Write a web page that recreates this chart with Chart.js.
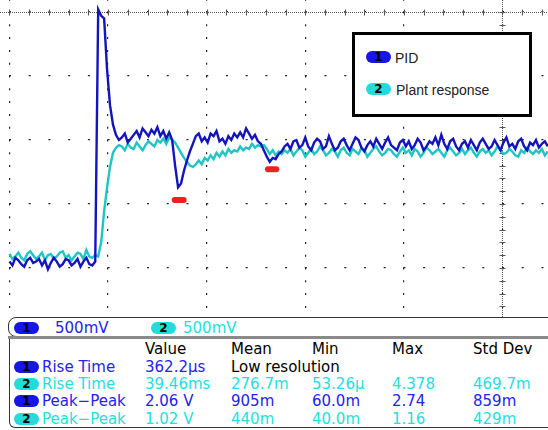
<!DOCTYPE html>
<html>
<head>
<meta charset="utf-8">
<script src="https://cdn.jsdelivr.net/npm/chart.js@4.4.1/dist/chart.umd.min.js"></script>
<style>
  body { margin: 0; background: #fff; width: 548px; height: 430px; overflow: hidden; position: relative; }
  #plot { position: absolute; left: 0; top: 0; width: 548px; height: 317px; }
  .pill { position: absolute; width: 25px; height: 12px; border-radius: 6px; color: #000;
          font: bold 12px "DejaVu Sans", sans-serif; line-height: 12px; text-align: center; }
  .blue { color: #2323f0; }
  .cyan { color: #1ee0e0; }
  .pill.b { background: #1616e6; color: #000; }
  .pill.c { background: #22dcdc; color: #000; }
  .t { position: absolute; font: 15px "DejaVu Sans", sans-serif; line-height: 18px; white-space: nowrap; }
  #legend { position: absolute; left: 352px; top: 32px; width: 174px; height: 79px; border: 3px solid #000; background: #fff; }
  #legend .lab { position: absolute; font: 14px "Liberation Sans", Arial, sans-serif; color: #222; line-height: 16px; white-space: nowrap; }
  #scalebox { position: absolute; left: 8px; top: 317px; width: 560px; height: 18px; border: 1px solid #333; border-radius: 8px 0 0 8px; }
  #bar { position: absolute; left: 8px; top: 336px; width: 560px; height: 3px; background: #8a8a8a; }
  #table { position: absolute; left: 9px; top: 339px; width: 560px; height: 88px; border: 1px solid #333; border-top: none; border-radius: 0 0 0 6px; }
</style>
</head>
<body>
<div id="plot"><canvas id="scope"></canvas></div>

<div id="legend">
  <div class="pill b" style="left:11px;top:16px">1</div>
  <div class="lab" style="left:40px;top:15px">PID</div>
  <div class="pill c" style="left:11px;top:48px">2</div>
  <div class="lab" style="left:41px;top:47px">Plant response</div>
</div>

<div id="scalebox"></div>
<div id="bar"></div>
<div id="table"></div>
<div id="panel"></div>

<script>
// sample period of the captured traces (ms), 100 ms per division, 500 mV per division
const sampleMs = 3;

// channel 1 - PID output (V)
const pid = [
  0.05,0.02,0.08,0.06,0.03,0.01,0.06,0.08,0.04,0.05,
  0.07,0.02,0.06,-0.01,0.04,0.08,0.05,0.01,0.03,0.07,
  0.06,0.02,0.04,0.07,0.01,0.05,0.08,0.03,0.02,0.05,
  2.02,1.97,1.95,1.55,1.27,1.12,1.04,1.00,
  1.02,1.05,0.98,1.01,1.04,1.07,1.02,1.09,1.06,1.03,
  1.08,1.05,1.10,1.03,1.07,1.01,1.06,1.00,0.80,0.63,
  0.66,0.76,0.84,0.91,0.97,1.03,1.05,0.99,1.02,0.98,
  1.05,1.03,1.07,0.99,1.01,0.97,1.03,1.00,1.05,1.02,
  1.06,1.02,1.09,1.05,1.01,1.04,0.99,0.97,0.92,0.87,
  0.83,0.86,0.85,0.89,0.91,0.95,
  0.97,0.93,0.99,1.00,0.94,0.96,1.02,0.95,0.92,0.98,
  1.01,0.99,0.93,0.95,1.03,0.97,0.92,0.94,0.99,1.01,
  0.96,0.92,0.97,1.02,1.00,0.94,0.91,0.96,0.99,0.95,
  1.01,0.97,0.93,0.98,1.02,0.96,0.94,0.92,0.98,1.00,
  0.95,0.99,0.93,0.96,1.01,0.98,0.92,0.95,0.99,0.97,
  1.02,0.96,1.04,0.97,0.93,0.99,1.01,0.95,0.92,0.97,
  0.99,0.94,1.00,0.96,0.92,0.98,1.01,0.97,0.93,0.95,
  1.00,0.96,0.92,0.98,1.02,0.95,0.97,0.93,0.99,1.01,
  0.95,0.92,0.98,0.96,1.00,0.94,0.97,0.99,0.95
];

// channel 2 - plant response (V)
const plant = [
  0.11,0.07,0.09,0.12,0.08,0.06,0.11,0.13,0.10,0.07,
  0.09,0.12,0.06,0.10,0.11,0.07,0.09,0.12,0.13,0.08,
  0.10,0.06,0.09,0.12,0.11,0.07,0.14,0.09,0.08,0.10,
  0.09,0.20,0.44,0.63,0.79,0.90,0.94,0.96,
  0.95,0.92,0.97,0.94,0.93,0.98,0.95,0.92,0.96,0.99,
  0.97,0.95,1.00,0.98,1.01,0.97,1.02,1.00,
  0.98,0.94,0.90,0.86,0.83,0.80,0.79,0.81,0.84,0.81,
  0.86,0.84,0.88,0.85,0.90,0.87,0.91,0.88,0.93,0.90,
  0.92,0.91,0.95,0.92,0.94,0.93,0.97,0.94,0.96,0.95,
  0.96,0.93,0.89,0.92,0.88,0.91,0.89,0.92,
  0.90,0.93,0.88,0.91,0.94,0.92,0.87,0.90,0.93,0.89,
  0.91,0.95,0.92,0.88,0.90,0.93,0.91,0.87,0.92,0.94,
  0.90,0.88,0.93,0.91,0.89,0.94,0.92,0.87,0.90,0.93,
  0.95,0.91,0.88,0.90,0.93,0.92,0.89,0.87,0.91,0.94,
  0.90,0.92,0.88,0.93,0.91,0.87,0.90,0.94,0.92,0.89,
  0.91,0.93,0.90,0.87,0.92,0.94,0.91,0.88,0.90,0.93,
  0.89,0.92,0.94,0.90,0.87,0.91,0.93,0.90,0.92,0.88,
  0.91,0.95,0.92,0.89,0.90,0.93,0.91,0.88,0.87,0.92,
  0.90,0.94,0.91,0.89,0.92,0.90,0.93,0.88,0.91
];

// red cursor markers (ms, V)
const cursorFrom = [167.6, 262.2];
const cursorTo = [176.7, 270.6];
const cursorLevel = [0.531, 0.771];

// grid divisions
const timeDivs = [0, 100, 200, 300, 400, 500];
const voltDivs = [0, 0.5, 1.0, 1.5, 2.0];

// measurement panel
const scaleLabels = ["500mV", "500mV"];
const statHeaders = ["Value", "Mean", "Min", "Max", "Std Dev"];
const statChannels = [1, 2, 1, 2];
const statNames = ["Rise Time", "Rise Time", "Peak\u2212Peak", "Peak\u2212Peak"];
const statValues = [
  ["362.2\u00b5s", "Low resolution", "", "", ""],
  ["39.46ms", "276.7m", "53.26\u00b5", "4.378", "469.7m"],
  ["2.06 V", "905m", "60.0m", "2.74", "859m"],
  ["1.02 V", "440m", "40.0m", "1.16", "429m"]
];

// build the html panel
const panel = document.getElementById('panel');
function addText(txt, x, y, cls, color) {
  const d = document.createElement('div');
  d.className = cls;
  d.style.left = x + 'px';
  d.style.top = y + 'px';
  if (color) d.style.color = color;
  d.textContent = txt;
  panel.appendChild(d);
}
addText('1', 14, 322, 'pill b');
addText(scaleLabels[0], 55, 319, 't blue');
addText('2', 151, 322, 'pill c');
addText(scaleLabels[1], 183, 319, 't cyan');

const colX = [145, 231, 312, 392, 473];
statHeaders.forEach((h, i) => addText(h, colX[i], 340, 't', '#000'));
statNames.forEach((n, r) => {
  const top = 357.5 + r * 17.4;
  const cls = statChannels[r] === 1 ? 'blue' : 'cyan';
  addText(String(statChannels[r]), 14, top + 3, 'pill ' + (cls === 'blue' ? 'b' : 'c'));
  addText(n, 42, top, 't ' + cls);
  statValues[r].forEach((v, c) => {
    if (v) addText(v, colX[c], top, 't ' + (c === 1 && r === 0 ? '' : cls), c === 1 && r === 0 ? '#000' : null);
  });
});

// dense centre-style axes with tick marks
const scopeAxes = {
  id: 'scopeAxes',
  beforeDatasetsDraw(chart) {
    const ctx = chart.ctx, a = chart.chartArea;
    const xs = chart.scales.x, ys = chart.scales.y;
    const yTop = Math.round(ys.getPixelForValue(2.0)) + 0.5;
    const xAx = Math.round(xs.getPixelForValue(500)) + 0.5;
    ctx.save();
    ctx.strokeStyle = '#555';
    ctx.lineWidth = 1;
    ctx.setLineDash([1, 1]);
    ctx.beginPath();
    ctx.moveTo(a.left, yTop); ctx.lineTo(a.right, yTop);
    ctx.moveTo(xAx, a.top); ctx.lineTo(xAx, a.bottom);
    ctx.stroke();
    ctx.setLineDash([]);
    ctx.beginPath();
    for (let t = 0; t <= 560; t += 20) {
      const px = Math.round(xs.getPixelForValue(t)) + 0.5;
      if (px < a.left || px > a.right) continue;
      ctx.moveTo(px, yTop - 3); ctx.lineTo(px, yTop + 3);
    }
    for (let v = 2.0; v >= -0.5; v -= 0.1) {
      const py = Math.round(ys.getPixelForValue(v)) + 0.5;
      if (py < a.top || py > a.bottom) continue;
      ctx.moveTo(xAx - 3, py); ctx.lineTo(xAx + 3, py);
    }
    ctx.stroke();
    ctx.restore();
  }
};

const toPoints = arr => arr.map((v, i) => ({ x: i * sampleMs, y: v }));
const cursorSets = cursorLevel.map((lv, i) => ({
  data: [{ x: cursorFrom[i], y: lv }, { x: cursorTo[i], y: lv }],
  borderColor: '#f02020',
  borderWidth: 6,
  borderCapStyle: 'round',
  pointRadius: 0
}));

new Chart(document.getElementById('scope'), {
  type: 'line',
  data: {
    datasets: [
      { label: 'PID', data: toPoints(pid), borderColor: '#1414bc', borderWidth: 2.4, pointRadius: 0, tension: 0 },
      { label: 'Plant response', data: toPoints(plant), borderColor: '#1fc4c4', borderWidth: 2.4, pointRadius: 0, tension: 0 },
      ...cursorSets
    ]
  },
  options: {
    responsive: true,
    maintainAspectRatio: false,
    animation: false,
    layout: { padding: 0, autoPadding: false },
    plugins: { legend: { display: false }, tooltip: { enabled: false } },
    scales: {
      x: {
        type: 'linear', min: -9.6, max: 546.2,
        afterBuildTicks: s => { s.ticks = timeDivs.map(v => ({ value: v })); },
        ticks: { display: false },
        grid: { color: '#222', lineWidth: 1.2, drawTicks: false },
        border: { display: false, dash: [2, 10.8], dashOffset: 1.3 }
      },
      y: {
        type: 'linear', min: -0.383, max: 2.094,
        afterBuildTicks: s => { s.ticks = voltDivs.map(v => ({ value: v })); },
        ticks: { display: false },
        grid: { color: '#222', lineWidth: 1.2, drawTicks: false },
        border: { display: false, dash: [2, 17.72], dashOffset: 10.72 }
      }
    }
  },
  plugins: [scopeAxes]
});
</script>
</body>
</html>
